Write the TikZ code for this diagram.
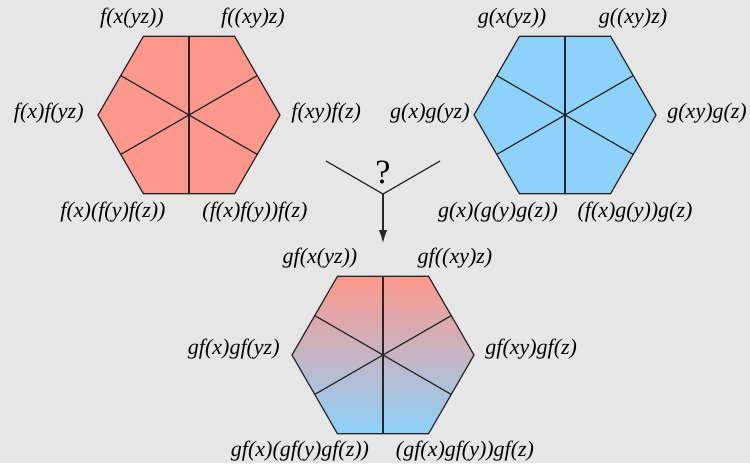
\documentclass[tikz,border=0pt]{standalone}
\usepackage{fontspec}
\setmainfont{Liberation Serif}
\usetikzlibrary{arrows.meta}
\definecolor{bggray}{RGB}{230,230,230}
\definecolor{hexred}{RGB}{254,152,140}
\definecolor{hexblue}{RGB}{140,210,250}
\tikzset{
  lbl/.style={font=\fontsize{11}{13}\selectfont\itshape, inner sep=0pt},
  rim/.style={draw=black!85, line width=0.6pt},
}

\begin{document}
\begin{tikzpicture}[x=0.5pt,y=-0.5pt]
\useasboundingbox[fill=bggray] (0,0) rectangle (750,463);
% hexagon f
\coordinate (fc) at (189,115);
\begin{scope}[shift={(fc)}]
\filldraw[rim, fill=hexred] (0:91) -- (60:91) -- (120:91) -- (180:91) -- (240:91) -- (300:91) -- cycle;
\draw[rim] (90:78.8) -- (270:78.8);
\draw[rim] (30:78.8) -- (210:78.8);
\draw[rim] (150:78.8) -- (330:78.8);
\end{scope}
\node[lbl] (fa) at (132,18) {f(x(yz))};
\node[lbl] (fb) at (253,18) {f((xy)z)};
\node[lbl, anchor=east] (fl) at (84,113) {f(x)f(yz)};
\node[lbl, anchor=west] (fr) at (291,113) {f(xy)f(z)};
\node[lbl] (fd) at (113,212) {f(x)(f(y)f(z))};
\node[lbl] (fe) at (255,212) {(f(x)f(y))f(z)};
% hexagon g
\coordinate (gc) at (565,115);
\begin{scope}[shift={(gc)}]
\filldraw[rim, fill=hexblue] (0:91) -- (60:91) -- (120:91) -- (180:91) -- (240:91) -- (300:91) -- cycle;
\draw[rim] (90:78.8) -- (270:78.8);
\draw[rim] (30:78.8) -- (210:78.8);
\draw[rim] (150:78.8) -- (330:78.8);
\end{scope}
\node[lbl] (ga) at (512,18) {g(x(yz))};
\node[lbl] (gb) at (633,18) {g((xy)z)};
\node[lbl, anchor=east] (gl) at (470,113) {g(x)g(yz)};
\node[lbl, anchor=west] (gr) at (667,113) {g(xy)g(z)};
\node[lbl] (gd) at (498,212) {g(x)(g(y)g(z))};
\node[lbl] (ge) at (635,212) {(f(x)g(y))g(z)};
% the question
\coordinate (ql) at (326,161);
\coordinate (qr) at (440,161);
\coordinate (qj) at (383,194);
\coordinate (qt) at (383,243);
\node[inner sep=0pt, font=\fontsize{17}{19}\selectfont] (qm) at (383,172) {?};
\draw[rim] (ql) -- (qj) -- (qr);
\draw[rim, -{Latex[length=6.5pt,width=4.2pt]}] (qj) -- (qt);
% hexagon gf
\coordinate (hc) at (383,355);
\begin{scope}[shift={(hc)}]
\shade[top color=hexred, bottom color=hexblue] (0:91) -- (60:91) -- (120:91) -- (180:91) -- (240:91) -- (300:91) -- cycle;
\draw[rim] (0:91) -- (60:91) -- (120:91) -- (180:91) -- (240:91) -- (300:91) -- cycle;
\draw[rim] (90:78.8) -- (270:78.8);
\draw[rim] (30:78.8) -- (210:78.8);
\draw[rim] (150:78.8) -- (330:78.8);
\end{scope}
\node[lbl] (ha) at (320,258) {gf(x(yz))};
\node[lbl] (hb) at (455,258) {gf((xy)z)};
\node[lbl, anchor=east] (hl) at (280,349) {gf(x)gf(yz)};
\node[lbl, anchor=west] (hr) at (485,349) {gf(xy)gf(z)};
\node[lbl] (hd) at (300,451) {gf(x)(gf(y)gf(z))};
\node[lbl] (he) at (465,451) {(gf(x)gf(y))gf(z)};
\end{tikzpicture}
\end{document}
